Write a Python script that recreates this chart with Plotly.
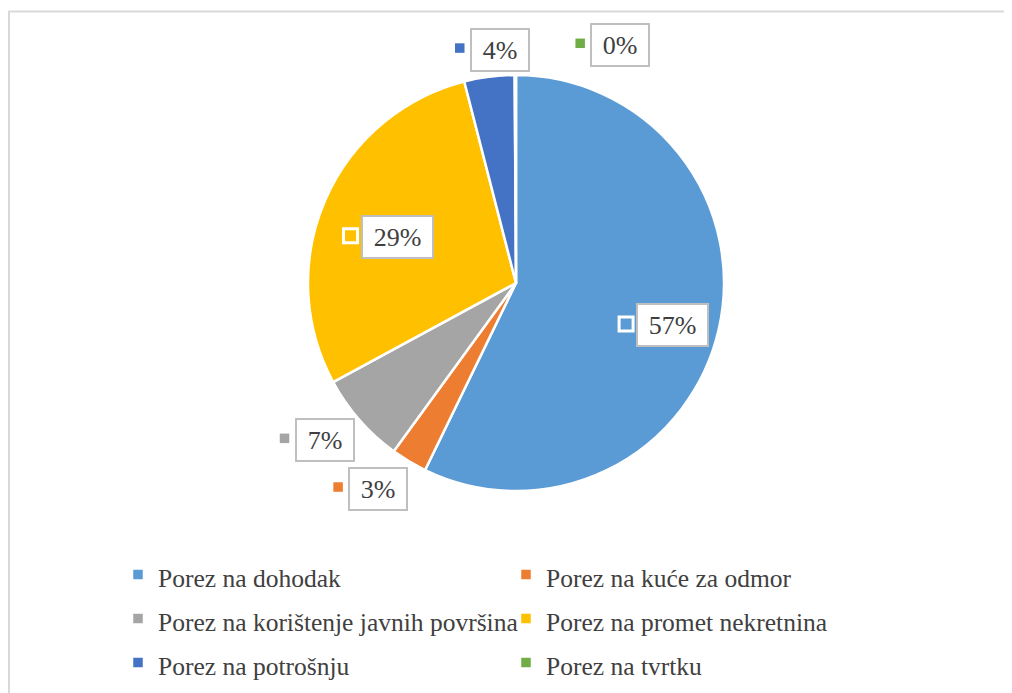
import math
import plotly.graph_objects as go

# ---- data ----
categories = [
    "Porez na dohodak",
    "Porez na kuće za odmor",
    "Porez na korištenje javnih površina",
    "Porez na promet nekretnina",
    "Porez na potrošnju",
    "Porez na tvrtku",
]
shares = [57.2, 2.8, 7.1, 28.9, 3.9, 0.1]
colors = ["#5B9BD5", "#ED7D31", "#A5A5A5", "#FFC000", "#4472C4", "#70AD47"]

# ---- label placement style (radius factor, angle nudge in degrees, inside?) ----
label_radius = [0.78, 1.19, 1.19, 0.613, 1.125, 1.25]
label_nudge = [2.2, 2.9, 1.9, -2.5, 3.4, 23.8]
label_inside = [True, False, False, True, False, False]

SERIF = "Liberation Serif"
W, H = 1012, 693
OFF = 8  # page body margin
CX, CY, R = 516, 283, 208  # screen-pixel geometry of the pie


def px(x):
    return (x - OFF) / W


def py(y):
    return 1 - (y - OFF) / H


fig = go.Figure()
fig.add_trace(go.Pie(
    labels=[f'<span style="font-size:25.5px">{c}</span>' for c in categories],
    values=shares,
    sort=False,
    direction="clockwise",
    rotation=0,
    textinfo="none",
    hoverinfo="label+percent",
    marker=dict(colors=colors, line=dict(color="white", width=2.5)),
    domain=dict(x=[px(CX - R), px(CX + R)], y=[py(CY + R), py(CY - R)]),
))

total = sum(shares)
annotations = []
shapes = []
cum = 0.0
for i, v in enumerate(shares):
    mid = (cum + v / 2) / total * 360.0
    cum += v
    ang = math.radians(mid + label_nudge[i])
    bx = CX + R * label_radius[i] * math.sin(ang)
    by = CY - R * label_radius[i] * math.cos(ang)
    txt = f"{round(v / total * 100)}%"
    bw = 13 * len(txt) + 30  # outer box width in px
    annotations.append(dict(
        x=px(bx), y=py(by), xref="paper", yref="paper",
        text=txt, showarrow=False,
        font=dict(family=SERIF, size=26, color="#404040"),
        bgcolor="white", bordercolor="#BFBFBF", borderwidth=2, borderpad=2,
        width=bw - 4, height=36, xanchor="center", yanchor="middle",
    ))
    # legend-key square in front of the label
    kx = bx - bw / 2 - 12
    ky = by - 1.5
    if label_inside[i]:
        s = 7
        shapes.append(dict(type="rect", xref="paper", yref="paper",
                           x0=px(kx - s), x1=px(kx + s), y0=py(ky + s), y1=py(ky - s),
                           fillcolor=colors[i], line=dict(color="white", width=3)))
    else:
        s = 4.75
        shapes.append(dict(type="rect", xref="paper", yref="paper",
                           x0=px(kx - s), x1=px(kx + s), y0=py(ky + s), y1=py(ky - s),
                           fillcolor=colors[i], line=dict(width=0)))

# chart-area border
shapes.append(dict(type="rect", xref="paper", yref="paper",
                   x0=px(9), x1=px(W + 40), y0=py(H + 40), y1=py(11.5),
                   fillcolor="rgba(0,0,0,0)", line=dict(color="#D9D9D9", width=2),
                   layer="below"))

fig.update_layout(
    width=W, height=H,
    margin=dict(l=0, r=0, t=0, b=0),
    paper_bgcolor="white",
    plot_bgcolor="white",
    showlegend=True,
    legend=dict(
        orientation="h",
        x=px(118), y=py(547.5), xanchor="left", yanchor="top",
        entrywidth=343, entrywidthmode="pixels",
        font=dict(family=SERIF, size=31.5, color="#404040"),
        itemclick=False, itemdoubleclick=False,
        bgcolor="rgba(0,0,0,0)",
    ),
    annotations=annotations,
    shapes=shapes,
)

fig.write_html("out.html")
